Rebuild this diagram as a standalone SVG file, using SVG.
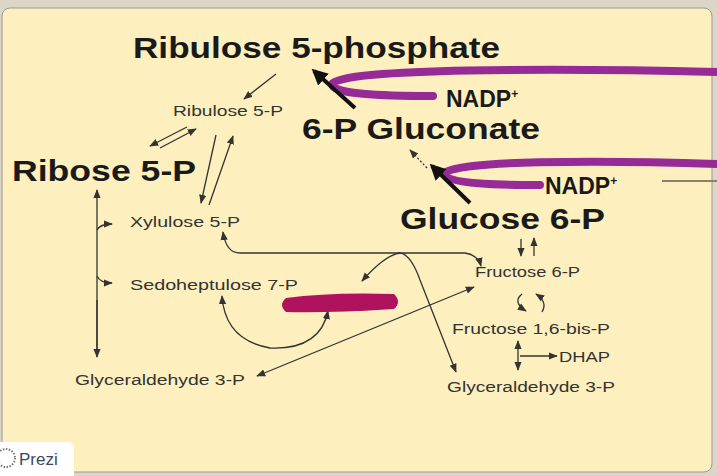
<svg xmlns="http://www.w3.org/2000/svg" width="717" height="476" viewBox="0 0 717 476">
<style>
.b{font-family:"Liberation Sans",Arial,sans-serif;font-weight:bold;fill:#1a1a1a}
.s{font-family:"Liberation Sans",Arial,sans-serif;font-size:14px;fill:#333}
.l{fill:none;stroke:#333;stroke-width:1.3}
.p{fill:none;stroke:#962b98;stroke-width:8;stroke-linecap:round}
</style>
<defs>
<marker id="a" viewBox="0 0 10 10" refX="9" refY="5" markerWidth="7" markerHeight="7" orient="auto-start-reverse"><path d="M0,1 L10,5 L0,9 z" fill="#333"/></marker>
<marker id="A" viewBox="0 0 10 10" refX="8" refY="5" markerWidth="4" markerHeight="4" orient="auto"><path d="M0,0 L10,5 L0,10 z" fill="#111"/></marker>
</defs>
<rect width="717" height="476" fill="#dcd6c8"/>
<rect x="2" y="8" width="710" height="464" rx="8" fill="#fdf0be" stroke="#999" stroke-width="1"/>
<g id="purple">
<path class="p" d="M717,72 C560,68 340,68 332,84 C332,94 380,96 433,96"/>
<path class="p" d="M717,164 C600,160 450,160 444,174 C448,184 500,185 540,185"/>
<line x1="662" y1="181" x2="717" y2="181" stroke="#8a8070" stroke-width="2"/>
</g>
<g id="connectors">
<line x1="355" y1="108" x2="314" y2="71" stroke="#111" stroke-width="4" marker-end="url(#A)"/>
<line x1="470" y1="203" x2="432" y2="166" stroke="#111" stroke-width="4" marker-end="url(#A)"/>
<line class="l" x1="276" y1="74" x2="244" y2="99" marker-end="url(#a)"/>
<line class="l" x1="427" y1="168" x2="410" y2="150" stroke-dasharray="2,2" marker-end="url(#a)"/>
<line class="l" x1="187" y1="127" x2="150" y2="146" marker-end="url(#a)"/>
<line class="l" x1="160" y1="148" x2="196" y2="129" marker-end="url(#a)"/>
<line class="l" x1="216" y1="135" x2="201" y2="203" marker-end="url(#a)"/>
<line class="l" x1="209" y1="205" x2="233" y2="136" marker-end="url(#a)"/>
<line class="l" x1="97" y1="355" x2="97" y2="190" marker-end="url(#a)"/>
<line class="l" x1="97" y1="300" x2="97" y2="357" marker-end="url(#a)"/>
<path class="l" d="M97,230 Q100,224 112,224" marker-end="url(#a)"/>
<path class="l" d="M97,276 Q100,283 112,283" marker-end="url(#a)"/>
<path class="l" d="M223,232 Q226,253 240,253 L465,253 Q478,255 481,266" marker-start="url(#a)" marker-end="url(#a)"/>
<path class="l" d="M400,253 Q385,255 362,281" marker-end="url(#a)"/>
<path class="l" d="M398,253 Q410,252 420,280 L456,372" marker-end="url(#a)"/>
<path class="l" d="M222,296 Q225,340 270,348 Q320,350 328,311" marker-start="url(#a)" marker-end="url(#a)"/>
<line class="l" x1="257" y1="376" x2="474" y2="287" marker-start="url(#a)" marker-end="url(#a)"/>
<line class="l" x1="521" y1="239" x2="521" y2="256" marker-end="url(#a)"/>
<line class="l" x1="534" y1="256" x2="534" y2="238" marker-end="url(#a)"/>
<path class="l" d="M522,294 Q512,302 526,311" marker-end="url(#a)"/>
<path class="l" d="M542,312 Q548,302 536,294" marker-end="url(#a)"/>
<line class="l" x1="518" y1="341" x2="518" y2="370" marker-start="url(#a)" marker-end="url(#a)"/>
<line class="l" x1="520" y1="356" x2="557" y2="356" marker-end="url(#a)"/>
</g>
<path d="M286,298 Q330,292 394,294 Q402,302 394,309 Q330,313 286,312 Q278,305 286,298 z" fill="#b0135e"/>
<g id="n-ru5phos"><text class="b" x="133" y="58" font-size="30" textLength="367" lengthAdjust="spacingAndGlyphs">Ribulose 5-phosphate</text></g>
<g id="n-nadp1"><text class="b" x="446" y="107" font-size="23">NADP<tspan font-size="12" dy="-9">+</tspan></text></g>
<g id="n-6pg"><text class="b" x="302" y="139" font-size="29" textLength="238" lengthAdjust="spacingAndGlyphs">6-P Gluconate</text></g>
<g id="n-r5p"><text class="b" x="12" y="181" font-size="29" textLength="184" lengthAdjust="spacingAndGlyphs">Ribose 5-P</text></g>
<g id="n-nadp2"><text class="b" x="545" y="194" font-size="23">NADP<tspan font-size="12" dy="-9">+</tspan></text></g>
<g id="n-g6p"><text class="b" x="400" y="229" font-size="29" textLength="205" lengthAdjust="spacingAndGlyphs">Glucose 6-P</text></g>
<g id="n-ru5p"><text class="s" x="173" y="116" textLength="110" lengthAdjust="spacingAndGlyphs">Ribulose 5-P</text></g>
<g id="n-xu5p"><text class="s" x="130" y="227" textLength="110" lengthAdjust="spacingAndGlyphs">Xylulose 5-P</text></g>
<g id="n-s7p"><text class="s" x="130" y="290" textLength="168" lengthAdjust="spacingAndGlyphs">Sedoheptulose 7-P</text></g>
<g id="n-f6p"><text class="s" x="475" y="277" textLength="105" lengthAdjust="spacingAndGlyphs">Fructose 6-P</text></g>
<g id="n-f16"><text class="s" x="452" y="334" textLength="158" lengthAdjust="spacingAndGlyphs">Fructose 1,6-bis-P</text></g>
<g id="n-dhap"><text class="s" x="559" y="362" textLength="51" lengthAdjust="spacingAndGlyphs">DHAP</text></g>
<g id="n-g3pL"><text class="s" x="75" y="385" textLength="170" lengthAdjust="spacingAndGlyphs">Glyceraldehyde 3-P</text></g>
<g id="n-g3pR"><text class="s" x="447" y="392" textLength="168" lengthAdjust="spacingAndGlyphs">Glyceraldehyde 3-P</text></g>
<g id="prezi">
<rect x="-6" y="442" width="80" height="40" rx="6" fill="#fff"/>
<circle cx="6" cy="458" r="9" fill="none" stroke="#777" stroke-width="2" stroke-dasharray="1.5,1.5"/>
<text x="19" y="465" font-family="Liberation Sans,Arial,sans-serif" font-size="17" fill="#3a4a5e">Prezi</text>
</g>
</svg>
